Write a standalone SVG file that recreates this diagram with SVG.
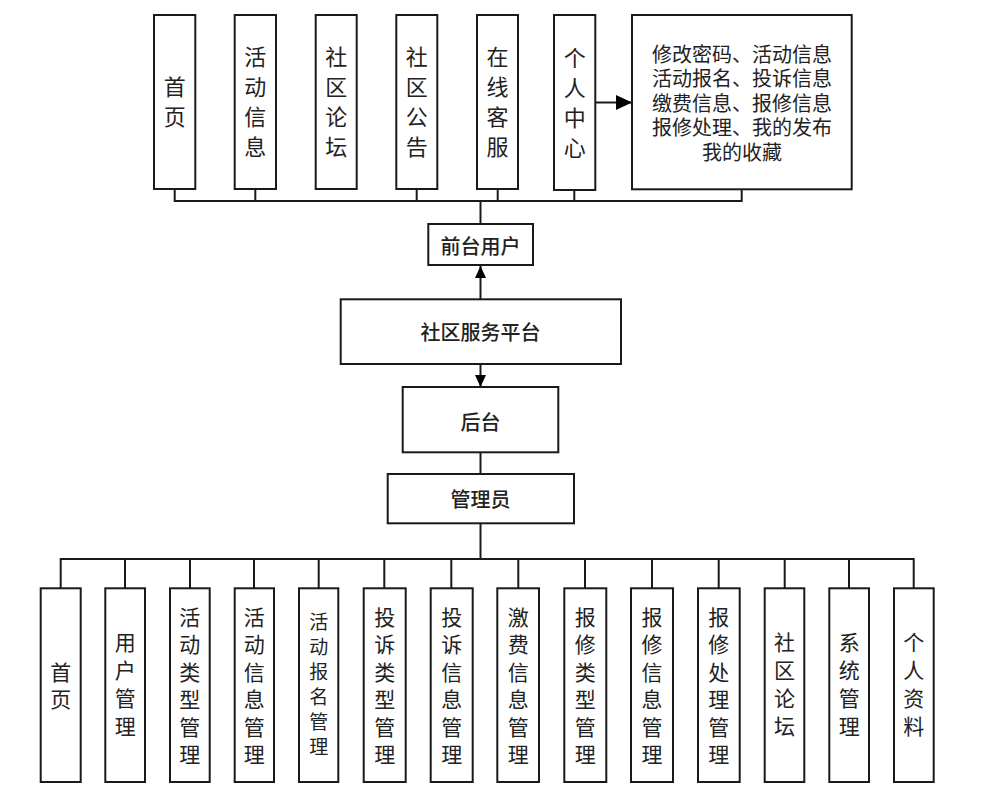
<svg xmlns="http://www.w3.org/2000/svg" width="982" height="799" viewBox="0 0 982 799">
<style>
rect.b{fill:#fff;stroke:#1a1a1a;stroke-width:2}
text{font-family:"Noto Sans CJK SC","Noto Sans CJK TC",sans-serif;fill:#222;text-anchor:middle;dominant-baseline:central}
.v{font-size:22px}
.w{font-size:21px}
.c{font-size:20px;font-weight:500}
.m{font-size:20px}
.ln{fill:none;stroke:#1a1a1a;stroke-width:2}
</style>
<defs>
<marker id="ah" viewBox="0 0 12 11" refX="12" refY="5.5" markerWidth="12" markerHeight="11" markerUnits="userSpaceOnUse" orient="auto"><path d="M0,0L12,5.5L0,11z" fill="#000"/></marker>
<marker id="ahb" viewBox="0 0 16 15" refX="16" refY="7.5" markerWidth="16" markerHeight="15" markerUnits="userSpaceOnUse" orient="auto"><path d="M0,0L16,7.5L0,15z" fill="#000"/></marker>
</defs>
<rect width="982" height="799" fill="#fff"/>
<g id="connectors" class="ln">
<path d="M174.7,189V201H741.7V189"/>
<path d="M255.3,189V201"/>
<path d="M416.7,189V201"/>
<path d="M497.7,189V201"/>
<path d="M574.3,190V201"/>
<path d="M480.5,201V224"/>
<path d="M595.3,102.5H632" marker-end="url(#ahb)"/>
<path d="M480.5,299V266" marker-end="url(#ah)"/>
<path d="M480.5,364V387" marker-end="url(#ah)"/>
<path d="M480.5,452V474"/>
<path d="M480.5,523V559"/>
<path d="M60.7,588V559H913.7V588"/>
<path d="M125,559V588M190,559V588M254,559V588M318.7,559V588M384.3,559V588M451.3,559V588M518.3,559V588M585,559V588M652,559V588M718.7,559V588M784.7,559V588M849,559V588"/>
</g>
<g id="top-shouye"><rect class="b" x="154" y="15" width="41.3" height="174"/><text class="v"><tspan x="174.7" y="85">首</tspan><tspan x="174.7" y="115">页</tspan></text></g>
<g id="top-huodong"><rect class="b" x="234.7" y="15" width="41.3" height="174"/><text class="v"><tspan x="255.3" y="55">活</tspan><tspan x="255.3" y="85">动</tspan><tspan x="255.3" y="115">信</tspan><tspan x="255.3" y="145">息</tspan></text></g>
<g id="top-luntan"><rect class="b" x="315.7" y="15" width="41" height="174"/><text class="v"><tspan x="336.2" y="55">社</tspan><tspan x="336.2" y="85">区</tspan><tspan x="336.2" y="115">论</tspan><tspan x="336.2" y="145">坛</tspan></text></g>
<g id="top-gonggao"><rect class="b" x="396.3" y="15" width="41" height="174"/><text class="v"><tspan x="416.8" y="55">社</tspan><tspan x="416.8" y="85">区</tspan><tspan x="416.8" y="115">公</tspan><tspan x="416.8" y="145">告</tspan></text></g>
<g id="top-kefu"><rect class="b" x="477" y="15" width="41" height="174"/><text class="v"><tspan x="497.5" y="55">在</tspan><tspan x="497.5" y="85">线</tspan><tspan x="497.5" y="115">客</tspan><tspan x="497.5" y="145">服</tspan></text></g>
<g id="top-geren"><rect class="b" x="554" y="15" width="41.3" height="175"/><text class="v"><tspan x="574.7" y="56">个</tspan><tspan x="574.7" y="86">人</tspan><tspan x="574.7" y="116">中</tspan><tspan x="574.7" y="146">心</tspan></text></g>
<g id="top-detail"><rect class="b" x="632" y="15" width="219.7" height="174.3"/><text class="m"><tspan x="742" y="52.5">修改密码、活动信息</tspan><tspan x="742" y="77">活动报名、投诉信息</tspan><tspan x="742" y="101.5">缴费信息、报修信息</tspan><tspan x="742" y="126">报修处理、我的发布</tspan><tspan x="742" y="150.5">我的收藏</tspan></text></g>
<g id="qiantai"><rect class="b" x="428.3" y="224" width="104.7" height="41"/><text class="c" x="480.5" y="245">前台用户</text></g>
<g id="platform"><rect class="b" x="340.7" y="299.3" width="280.3" height="64.7"/><text class="c" x="480.5" y="331.7">社区服务平台</text></g>
<g id="houtai"><rect class="b" x="402.7" y="387" width="155.6" height="65.3"/><text class="c" x="480.5" y="421">后台</text></g>
<g id="admin"><rect class="b" x="387.7" y="474" width="186.3" height="49.3"/><text class="c" x="480.5" y="498">管理员</text></g>
<g id="b-shouye"><rect class="b" x="40.7" y="588.3" width="40" height="193.7"/><text class="w"><tspan x="60.7" y="670.5">首</tspan><tspan x="60.7" y="697.5">页</tspan></text></g>
<g id="b-yonghu"><rect class="b" x="105.3" y="588.3" width="39.7" height="193.7"/><text class="w"><tspan x="125.2" y="641">用</tspan><tspan x="125.2" y="669">户</tspan><tspan x="125.2" y="697">管</tspan><tspan x="125.2" y="725">理</tspan></text></g>
<g id="b-hdlx"><rect class="b" x="170" y="588.3" width="39.7" height="193.7"/><text class="w"><tspan x="189.8" y="615.5">活</tspan><tspan x="189.8" y="643">动</tspan><tspan x="189.8" y="670.5">类</tspan><tspan x="189.8" y="698">型</tspan><tspan x="189.8" y="725.5">管</tspan><tspan x="189.8" y="753">理</tspan></text></g>
<g id="b-hdxx"><rect class="b" x="234.7" y="588.3" width="39.3" height="193.7"/><text class="w"><tspan x="254.3" y="615.5">活</tspan><tspan x="254.3" y="643">动</tspan><tspan x="254.3" y="670.5">信</tspan><tspan x="254.3" y="698">息</tspan><tspan x="254.3" y="725.5">管</tspan><tspan x="254.3" y="753">理</tspan></text></g>
<g id="b-hdbm"><rect class="b" x="299" y="588.3" width="39.3" height="193.7"/><text style="font-size:19px"><tspan x="318.7" y="620">活</tspan><tspan x="318.7" y="645">动</tspan><tspan x="318.7" y="670">报</tspan><tspan x="318.7" y="695">名</tspan><tspan x="318.7" y="720">管</tspan><tspan x="318.7" y="745">理</tspan></text></g>
<g id="b-tslx"><rect class="b" x="363.7" y="588.3" width="42" height="193.7"/><text class="w"><tspan x="384.7" y="615.5">投</tspan><tspan x="384.7" y="643">诉</tspan><tspan x="384.7" y="670.5">类</tspan><tspan x="384.7" y="698">型</tspan><tspan x="384.7" y="725.5">管</tspan><tspan x="384.7" y="753">理</tspan></text></g>
<g id="b-tsxx"><rect class="b" x="430.7" y="588.3" width="42" height="193.7"/><text class="w"><tspan x="451.7" y="615.5">投</tspan><tspan x="451.7" y="643">诉</tspan><tspan x="451.7" y="670.5">信</tspan><tspan x="451.7" y="698">息</tspan><tspan x="451.7" y="725.5">管</tspan><tspan x="451.7" y="753">理</tspan></text></g>
<g id="b-jfxx"><rect class="b" x="497.3" y="588.3" width="41.7" height="193.7"/><text class="w"><tspan x="518.2" y="615.5">激</tspan><tspan x="518.2" y="643">费</tspan><tspan x="518.2" y="670.5">信</tspan><tspan x="518.2" y="698">息</tspan><tspan x="518.2" y="725.5">管</tspan><tspan x="518.2" y="753">理</tspan></text></g>
<g id="b-bxlx"><rect class="b" x="564.3" y="588.3" width="42" height="193.7"/><text class="w"><tspan x="585.3" y="615.5">报</tspan><tspan x="585.3" y="643">修</tspan><tspan x="585.3" y="670.5">类</tspan><tspan x="585.3" y="698">型</tspan><tspan x="585.3" y="725.5">管</tspan><tspan x="585.3" y="753">理</tspan></text></g>
<g id="b-bxxx"><rect class="b" x="631" y="588.3" width="42" height="193.7"/><text class="w"><tspan x="652" y="615.5">报</tspan><tspan x="652" y="643">修</tspan><tspan x="652" y="670.5">信</tspan><tspan x="652" y="698">息</tspan><tspan x="652" y="725.5">管</tspan><tspan x="652" y="753">理</tspan></text></g>
<g id="b-bxcl"><rect class="b" x="698" y="588.3" width="41.7" height="193.7"/><text class="w"><tspan x="718.8" y="615.5">报</tspan><tspan x="718.8" y="643">修</tspan><tspan x="718.8" y="670.5">处</tspan><tspan x="718.8" y="698">理</tspan><tspan x="718.8" y="725.5">管</tspan><tspan x="718.8" y="753">理</tspan></text></g>
<g id="b-sqlt"><rect class="b" x="764.7" y="588.3" width="39.6" height="193.7"/><text class="w"><tspan x="784.5" y="641">社</tspan><tspan x="784.5" y="669">区</tspan><tspan x="784.5" y="697">论</tspan><tspan x="784.5" y="725">坛</tspan></text></g>
<g id="b-xtgl"><rect class="b" x="829.3" y="588.3" width="39.7" height="193.7"/><text class="w"><tspan x="849.2" y="641">系</tspan><tspan x="849.2" y="669">统</tspan><tspan x="849.2" y="697">管</tspan><tspan x="849.2" y="725">理</tspan></text></g>
<g id="b-grzl"><rect class="b" x="894" y="588.3" width="39.7" height="193.7"/><text class="w"><tspan x="913.8" y="641">个</tspan><tspan x="913.8" y="669">人</tspan><tspan x="913.8" y="697">资</tspan><tspan x="913.8" y="725">料</tspan></text></g>
</svg>
